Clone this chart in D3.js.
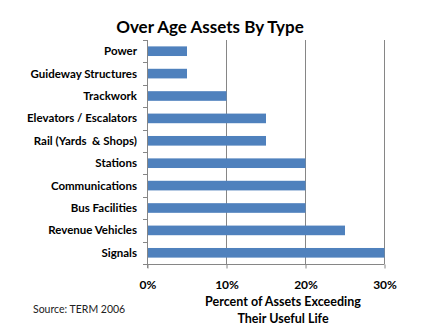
<!DOCTYPE html>
<html>
<head>
<meta charset="utf-8">
<script src="https://cdn.jsdelivr.net/npm/d3@7"></script>
<style>
  html, body { margin: 0; padding: 0; background: #fff; }
  svg { display: block; }
  text { font-family: Lato, "Open Sans", sans-serif; white-space: pre; }
</style>
</head>
<body>
<svg id="chart" width="440" height="336"></svg>
<script>
const categories = ["Power", "Guideway Structures", "Trackwork", "Elevators / Escalators",
  "Rail (Yards  & Shops)", "Stations", "Communications", "Bus Facilities",
  "Revenue Vehicles", "Signals"];
const values = [0.05, 0.05, 0.10, 0.15, 0.15, 0.20, 0.20, 0.20, 0.25, 0.30];
const xTicks = [0, 0.10, 0.20, 0.30];
const title = "Over Age Assets By Type";
const axisTitle = ["Percent of Assets Exceeding", "Their Useful Life"];
const source = "Source: TERM 2006";

(function () {
const svg = d3.select("#chart");
const pLeft = 147, pRight = 384, pTop = 40, pBottom = 264;
const gridColor = "#868686";

const x = d3.scaleLinear().domain([0, 0.30]).range([pLeft, pRight]);
const y = d3.scaleBand().domain(categories).range([pTop, pBottom]).paddingInner(0.57).paddingOuter(0.285);

// gridlines
svg.append("g").selectAll("line").data(xTicks.slice(1)).join("line")
  .attr("x1", d => Math.round(x(d)) + 0.5).attr("x2", d => Math.round(x(d)) + 0.5)
  .attr("y1", pTop).attr("y2", pBottom)
  .attr("stroke", gridColor).attr("stroke-width", 1);

// bars
svg.append("g").selectAll("rect").data(categories).join("rect")
  .attr("x", pLeft + 0.5)
  .attr("y", (d) => y(d))
  .attr("width", (d, i) => x(values[i]) - pLeft)
  .attr("height", y.bandwidth())
  .attr("fill", "#4F81BD");

// x axis
const xAxis = d3.axisBottom(x).tickValues(xTicks).tickFormat(d3.format(".0%")).tickSize(4).tickPadding(12);
const gx = svg.append("g").attr("transform", `translate(0.5,${pBottom + 0.5})`).call(xAxis);
gx.select(".domain").attr("stroke", gridColor).attr("d", `M${pLeft},0H${pRight}`);
gx.selectAll(".tick line").attr("stroke", gridColor);
gx.selectAll(".tick text").attr("font-size", 12).attr("font-weight", "bold")
  .attr("fill", "#000").style("font-family", "Lato, sans-serif");

// y axis: ticks at category boundaries
const boundaries = d3.range(categories.length + 1).map(i => pTop + i * (pBottom - pTop) / categories.length);
svg.append("line").attr("x1", pLeft + 0.5).attr("x2", pLeft + 0.5).attr("y1", pTop).attr("y2", pBottom + 4)
  .attr("stroke", gridColor);
svg.append("g").selectAll("line").data(boundaries).join("line")
  .attr("x1", pLeft - 4).attr("x2", pLeft + 0.5)
  .attr("y1", d => Math.round(d) + 0.5).attr("y2", d => Math.round(d) + 0.5)
  .attr("stroke", gridColor);

// category labels
svg.append("g").selectAll("text").data(categories).join("text")
  .attr("x", 137)
  .attr("y", d => y(d) + y.bandwidth() / 2)
  .attr("dy", "0.35em")
  .attr("text-anchor", "end")
  .attr("font-size", 11.5).attr("font-weight", "bold").attr("fill", "#000")
  .text(d => d);

// title
svg.append("text").attr("x", 210).attr("y", 33).attr("text-anchor", "middle")
  .attr("font-size", 17).attr("font-weight", "bold").attr("fill", "#000").text(title);

// axis title
svg.append("g").selectAll("text").data(axisTitle).join("text")
  .attr("x", 283).attr("y", (d, i) => 306 + i * 17).attr("text-anchor", "middle")
  .attr("font-size", 12.5).attr("font-weight", "bold").attr("fill", "#000").text(d => d);

// source
svg.append("text").attr("x", 33).attr("y", 313)
  .attr("font-size", 10.5).attr("fill", "#222").text(source);
})();
</script>
</body>
</html>
